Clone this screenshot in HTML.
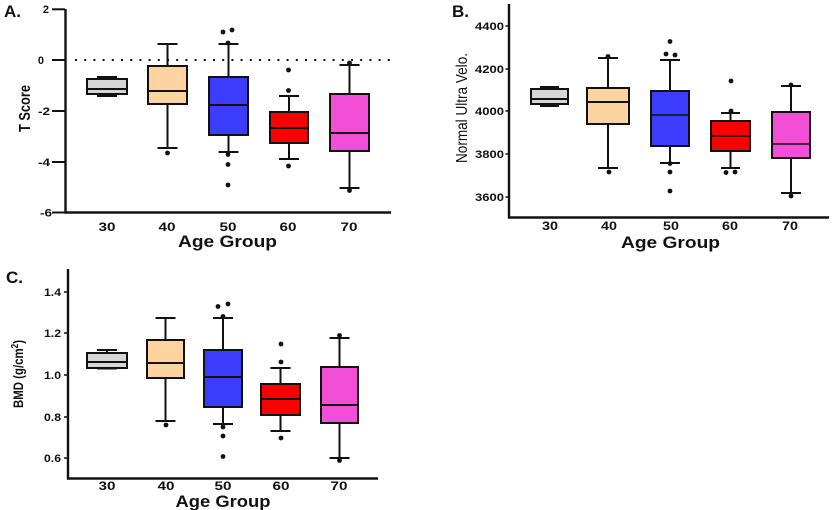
<!DOCTYPE html>
<html><head><meta charset="utf-8"><style>
html,body{margin:0;padding:0;background:#fff;}
svg{display:block;}
text{font-family:"Liberation Sans",Arial,sans-serif;fill:#111;}
.tk{font-size:11px;font-weight:bold;}
.xt{font-size:12px;font-weight:bold;}
.ag{font-size:17px;font-weight:bold;}
.pl{font-size:17px;font-weight:bold;}
.ax{stroke:#111;stroke-width:2.4;fill:none;}
.bx{stroke:#111;stroke-width:2;}
.ln{stroke:#111;stroke-width:2;fill:none;}
.lt{stroke:#111;stroke-width:1.5;fill:none;}
.pt{fill:#111;}
</style></head><body>
<svg width="833" height="510" viewBox="0 0 833 510" xmlns="http://www.w3.org/2000/svg">
<rect width="833" height="510" fill="#fff"/>

<!-- ================= PANEL A ================= -->
<text class="pl" x="4" y="17" font-size="16">A.</text>
<path class="ax" d="M65.5 9 V212.5 H391"/>
<g stroke="#111" stroke-width="2">
<line x1="52" y1="9.3" x2="65" y2="9.3"/>
<line x1="52" y1="60" x2="65" y2="60"/>
<line x1="52" y1="111" x2="65" y2="111"/>
<line x1="52" y1="162" x2="65" y2="162"/>
<line x1="52" y1="212.5" x2="65" y2="212.5"/>
</g>
<g class="tk" text-anchor="end">
<text x="49" y="13">2</text>
<text x="44" y="64">0</text>
<text x="50" y="115" textLength="12" lengthAdjust="spacingAndGlyphs">-2</text>
<text x="50" y="166" textLength="12" lengthAdjust="spacingAndGlyphs">-4</text>
<text x="52" y="216.5" textLength="12" lengthAdjust="spacingAndGlyphs">-6</text>
</g>
<text transform="translate(30,108.5) rotate(-90)" text-anchor="middle" font-size="16" font-weight="bold" textLength="47" lengthAdjust="spacingAndGlyphs">T Score</text>
<line x1="75" y1="60" x2="390" y2="60" stroke="#111" stroke-width="2" stroke-dasharray="2 7.2"/>
<g class="xt" text-anchor="middle">
<text x="107" y="231" textLength="17" lengthAdjust="spacingAndGlyphs">30</text>
<text x="167" y="231" textLength="17" lengthAdjust="spacingAndGlyphs">40</text>
<text x="228" y="231" textLength="17" lengthAdjust="spacingAndGlyphs">50</text>
<text x="288" y="231" textLength="17" lengthAdjust="spacingAndGlyphs">60</text>
<text x="349" y="231" textLength="17" lengthAdjust="spacingAndGlyphs">70</text>
</g>
<text class="ag" x="227.5" y="247" text-anchor="middle" textLength="99" lengthAdjust="spacingAndGlyphs">Age Group</text>

<!-- A boxes -->
<path class="ln" d="M107 77 V79 M97 77 H117 M107 94 V96 M97 96 H117"/>
<rect class="bx" x="87" y="79" width="40" height="15" fill="#d6d6d6"/>
<line class="ln" x1="87" y1="89" x2="127" y2="89"/>

<path class="ln" d="M167.5 44 V66 M157.5 44 H177.5 M167.5 104 V148 M157.5 148 H177.5"/>
<rect class="bx" x="148" y="66" width="39" height="38" fill="#fdd3a0"/>
<line class="ln" x1="148" y1="91" x2="187" y2="91"/>
<circle class="pt" cx="167.5" cy="153" r="2.4"/>

<path class="ln" d="M228.5 44 V77 M218.5 44 H238.5 M228.5 135 V152 M218.5 152 H238.5"/>
<rect class="bx" x="209" y="77" width="39" height="58" fill="#3c3cfc"/>
<line class="ln" x1="209" y1="105" x2="248" y2="105"/>
<circle class="pt" cx="223" cy="32" r="2.4"/>
<circle class="pt" cx="232" cy="30" r="2.4"/>
<circle class="pt" cx="228" cy="43" r="2.4"/>
<circle class="pt" cx="228" cy="154.5" r="2.4"/>
<circle class="pt" cx="228" cy="164.5" r="2.4"/>
<circle class="pt" cx="228" cy="185" r="2.4"/>

<path class="ln" d="M289 96 V112 M279 96 H299 M289 143 V159 M279 159 H299"/>
<rect class="bx" x="270" y="112" width="38" height="31" fill="#fb0000"/>
<line class="ln" x1="270" y1="128" x2="308" y2="128"/>
<circle class="pt" cx="288.5" cy="70" r="2.4"/>
<circle class="pt" cx="288.5" cy="90.5" r="2.4"/>
<circle class="pt" cx="288.5" cy="166" r="2.4"/>

<path class="ln" d="M349.5 65 V94 M339.5 65 H359.5 M349.5 151 V188 M339.5 188 H359.5"/>
<rect class="bx" x="330" y="94" width="39" height="57" fill="#f24fd6"/>
<line class="ln" x1="330" y1="133" x2="369" y2="133"/>
<circle class="pt" cx="349.5" cy="63" r="2.4"/>
<circle class="pt" cx="349.5" cy="190.5" r="2.4"/>

<!-- ================= PANEL B ================= -->
<text class="pl" x="452" y="17" font-size="16">B.</text>
<path class="ax" d="M509 4 V217.5 H829"/>
<g stroke="#111" stroke-width="1.5">
<line x1="505.5" y1="26" x2="509" y2="26"/>
<line x1="505.5" y1="69" x2="509" y2="69"/>
<line x1="505.5" y1="111" x2="509" y2="111"/>
<line x1="505.5" y1="154" x2="509" y2="154"/>
<line x1="505.5" y1="197" x2="509" y2="197"/>
</g>
<g class="tk" text-anchor="end" font-size="10">
<text x="504" y="30" textLength="29" lengthAdjust="spacingAndGlyphs">4400</text>
<text x="504" y="73" textLength="29" lengthAdjust="spacingAndGlyphs">4200</text>
<text x="504" y="115" textLength="29" lengthAdjust="spacingAndGlyphs">4000</text>
<text x="504" y="158" textLength="29" lengthAdjust="spacingAndGlyphs">3800</text>
<text x="504" y="201" textLength="29" lengthAdjust="spacingAndGlyphs">3600</text>
</g>
<text transform="translate(467,108) rotate(-90)" text-anchor="middle" font-size="16" textLength="110" lengthAdjust="spacingAndGlyphs">Normal Ultra Velo.</text>
<g class="xt" text-anchor="middle">
<text x="550" y="230" textLength="16" lengthAdjust="spacingAndGlyphs">30</text>
<text x="609" y="230" textLength="16" lengthAdjust="spacingAndGlyphs">40</text>
<text x="671" y="230" textLength="16" lengthAdjust="spacingAndGlyphs">50</text>
<text x="730" y="230" textLength="16" lengthAdjust="spacingAndGlyphs">60</text>
<text x="790" y="230" textLength="16" lengthAdjust="spacingAndGlyphs">70</text>
</g>
<text class="ag" x="670.5" y="248" text-anchor="middle" textLength="99" lengthAdjust="spacingAndGlyphs">Age Group</text>

<!-- B boxes -->
<path class="ln" d="M549.5 87 V89 M540 87 H559 M549.5 104 V106 M540 106 H559"/>
<rect class="bx" x="531" y="89" width="37" height="15" fill="#d6d6d6"/>
<line class="ln" x1="531" y1="99" x2="568" y2="99"/>

<path class="ln" d="M608 58 V88 M598 58 H618 M608 124 V168 M598 168 H618"/>
<rect class="bx" x="587" y="88" width="42" height="36" fill="#fdd3a0"/>
<line class="ln" x1="587" y1="102" x2="629" y2="102"/>
<circle class="pt" cx="608" cy="56.5" r="2.4"/>
<circle class="pt" cx="609" cy="172" r="2.4"/>

<path class="ln" d="M670 60 V91 M660 60 H680 M670 146 V163 M660 163 H680"/>
<rect class="bx" x="651" y="91" width="38" height="55" fill="#3c3cfc"/>
<line class="lt" x1="651" y1="115" x2="689" y2="115"/>
<circle class="pt" cx="670" cy="41.5" r="2.4"/>
<circle class="pt" cx="666" cy="54" r="2.4"/>
<circle class="pt" cx="675" cy="55" r="2.4"/>
<circle class="pt" cx="670" cy="163.5" r="2.4"/>
<circle class="pt" cx="670" cy="172" r="2.4"/>
<circle class="pt" cx="670" cy="191" r="2.4"/>

<path class="ln" d="M730.5 113 V121 M721 113 H740 M730.5 151 V168 M721 168 H740"/>
<rect class="bx" x="711" y="121" width="39" height="30" fill="#fb0000"/>
<line class="lt" x1="711" y1="136" x2="750" y2="136"/>
<circle class="pt" cx="731" cy="81" r="2.4"/>
<circle class="pt" cx="731" cy="111" r="2.4"/>
<circle class="pt" cx="726" cy="172.5" r="2.4"/>
<circle class="pt" cx="735" cy="172" r="2.4"/>

<path class="ln" d="M791 86 V112 M781 86 H801 M791 158 V193 M781 193 H801"/>
<rect class="bx" x="772" y="112" width="38" height="46" fill="#f24fd6"/>
<line class="lt" x1="772" y1="144" x2="810" y2="144"/>
<circle class="pt" cx="791" cy="85" r="2.4"/>
<circle class="pt" cx="791" cy="196" r="2.4"/>

<!-- ================= PANEL C ================= -->
<text class="pl" x="6" y="283" font-size="18">C.</text>
<path class="ax" d="M68 269 V478.5 H378"/>
<g stroke="#111" stroke-width="1.5">
<line x1="64" y1="292" x2="68" y2="292"/>
<line x1="64" y1="333" x2="68" y2="333"/>
<line x1="64" y1="375" x2="68" y2="375"/>
<line x1="64" y1="417" x2="68" y2="417"/>
<line x1="64" y1="458" x2="68" y2="458"/>
</g>
<g class="tk" text-anchor="end">
<text x="61" y="296" textLength="17" lengthAdjust="spacingAndGlyphs">1.4</text>
<text x="61" y="337" textLength="17" lengthAdjust="spacingAndGlyphs">1.2</text>
<text x="61" y="379" textLength="17" lengthAdjust="spacingAndGlyphs">1.0</text>
<text x="61" y="421" textLength="17" lengthAdjust="spacingAndGlyphs">0.8</text>
<text x="61" y="462" textLength="17" lengthAdjust="spacingAndGlyphs">0.6</text>
</g>
<text transform="translate(23,374) rotate(-90)" text-anchor="middle" font-size="14" font-weight="bold" textLength="68" lengthAdjust="spacingAndGlyphs">BMD (g/cm<tspan font-size="10" dy="-5">2</tspan><tspan dy="5">)</tspan></text>
<g class="xt" text-anchor="middle">
<text x="107" y="490" textLength="17" lengthAdjust="spacingAndGlyphs">30</text>
<text x="166" y="490" textLength="17" lengthAdjust="spacingAndGlyphs">40</text>
<text x="223" y="490" textLength="17" lengthAdjust="spacingAndGlyphs">50</text>
<text x="281" y="490" textLength="17" lengthAdjust="spacingAndGlyphs">60</text>
<text x="339" y="490" textLength="17" lengthAdjust="spacingAndGlyphs">70</text>
</g>
<text class="ag" x="223" y="507" text-anchor="middle" textLength="95" lengthAdjust="spacingAndGlyphs">Age Group</text>

<!-- C boxes -->
<path class="ln" d="M107 350 V353 M97 350 H117 M107 368 V368.5 M97 368.5 H117"/>
<rect class="bx" x="87" y="353" width="40" height="15" fill="#d6d6d6"/>
<line class="ln" x1="87" y1="362" x2="127" y2="362"/>

<path class="ln" d="M165.5 318 V340 M155.5 318 H175.5 M165.5 378 V421 M155.5 421 H175.5"/>
<rect class="bx" x="147" y="340" width="37" height="38" fill="#fdd3a0"/>
<line class="ln" x1="147" y1="363" x2="184" y2="363"/>
<circle class="pt" cx="166" cy="425" r="2.4"/>

<path class="ln" d="M223 318 V350 M213 318 H233 M223 407 V424 M213 424 H233"/>
<rect class="bx" x="204" y="350" width="38" height="57" fill="#3c3cfc"/>
<line class="ln" x1="204" y1="377" x2="242" y2="377"/>
<circle class="pt" cx="218" cy="306.5" r="2.4"/>
<circle class="pt" cx="228" cy="304" r="2.4"/>
<circle class="pt" cx="223" cy="316.5" r="2.4"/>
<circle class="pt" cx="223" cy="427" r="2.4"/>
<circle class="pt" cx="223" cy="436" r="2.4"/>
<circle class="pt" cx="223" cy="456.5" r="2.4"/>

<path class="ln" d="M280.5 368 V384 M270.5 368 H290.5 M280.5 415 V431 M270.5 431 H290.5"/>
<rect class="bx" x="261" y="384" width="39" height="31" fill="#fb0000"/>
<line class="ln" x1="261" y1="399" x2="300" y2="399"/>
<circle class="pt" cx="281" cy="344" r="2.4"/>
<circle class="pt" cx="281" cy="362" r="2.4"/>
<circle class="pt" cx="281" cy="438" r="2.4"/>

<path class="ln" d="M339.5 338 V367 M329.5 338 H349.5 M339.5 423 V458 M329.5 458 H349.5"/>
<rect class="bx" x="321" y="367" width="37" height="56" fill="#f24fd6"/>
<line class="ln" x1="321" y1="405" x2="358" y2="405"/>
<circle class="pt" cx="339.5" cy="335.5" r="2.4"/>
<circle class="pt" cx="339.5" cy="460.5" r="2.4"/>
</svg>
</body></html>
